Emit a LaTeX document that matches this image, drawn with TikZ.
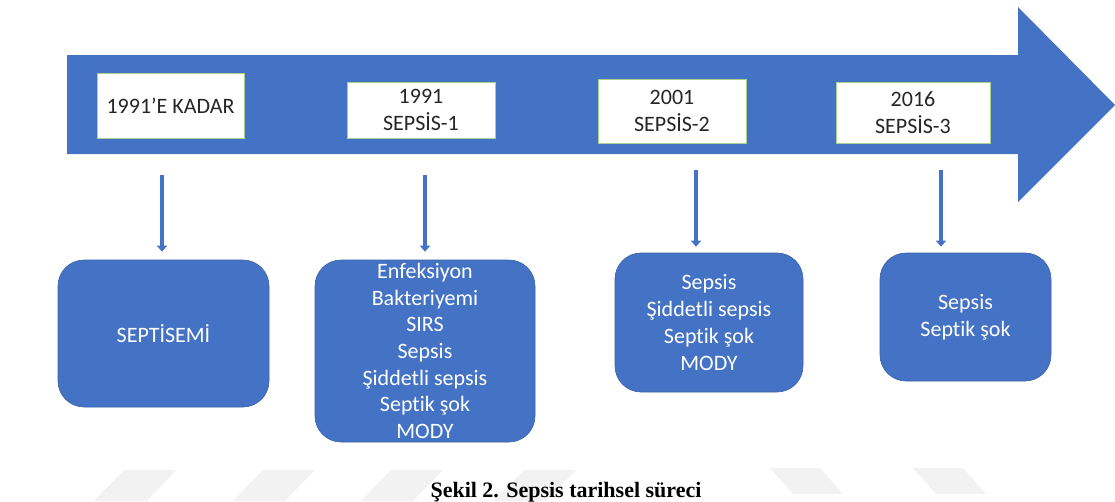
\documentclass[tikz,border=0pt]{standalone}
\usepackage{fontspec}
\setmainfont{Carlito}[Ligatures={NoCommon}]
\newfontfamily\capfont{Liberation Serif}
\usetikzlibrary{arrows.meta}
\definecolor{timeblue}{HTML}{4472C4}
\definecolor{yearline}{HTML}{A9D18E}
\tikzset{
	yearbox/.style={draw=yearline, fill=white, line width=0.8pt, text=black!85, align=center, inner sep=0pt, font=\fontsize{22}{26.7}\selectfont},
	termbox/.style={draw=timeblue!85!black, fill=timeblue, line width=0.6pt, rounded corners=26pt, text=white, align=center, inner sep=0pt, font=\fontsize{22}{26.7}\selectfont},
	downarrow/.style={draw=timeblue, line width=3.5pt, -{Triangle[width=10pt,length=6pt]}}
}

\begin{document}
\begin{tikzpicture}[x=1pt, y=-1pt]
		%%%%% START %%%%%
		\useasboundingbox (0, 0) rectangle (1115, 501);
		
		\fill[black!5] (124, 470) -- (176, 470) -- (147, 501) -- (94, 501) -- cycle;
		\fill[black!5] (263, 470) -- (315, 470) -- (285, 501) -- (233, 501) -- cycle;
		\fill[black!5] (391, 470) -- (443, 470) -- (413, 501) -- (361, 501) -- cycle;
		\fill[black!5] (524, 470) -- (576, 470) -- (546, 501) -- (494, 501) -- cycle;
		\fill[black!5] (770, 468) -- (820, 468) -- (843, 494) -- (793, 494) -- cycle;
		\fill[black!5] (913, 468) -- (963, 468) -- (986, 494) -- (936, 494) -- cycle;
		
		\fill[timeblue] (67, 55) -- (1018, 55) -- (1018, 7) -- (1115, 105) -- (1018, 202) -- (1018, 154) -- (67, 154) -- cycle;
		
		\node[yearbox, minimum width=147, minimum height=65] (kadar) at (170.5, 105.5) {1991’E KADAR};
		\node[yearbox, minimum width=148, minimum height=56] (sepsisone) at (421, 110) {1991\\SEPSİS-1};
		\node[yearbox, minimum width=148, minimum height=64] (sepsistwo) at (672, 111) {2001\\SEPSİS-2};
		\node[yearbox, minimum width=154, minimum height=61] (sepsisthree) at (913, 112.5) {2016\\SEPSİS-3};
		
		\node[termbox, minimum width=211, minimum height=147] (septisemi) at (163.5, 333.5) {SEPTİSEMİ};
		\node[termbox, minimum width=220, minimum height=182] (termone) at (425, 351) {Enfeksiyon\\Bakteriyemi\\SIRS\\Sepsis\\Şiddetli sepsis\\Septik şok\\MODY};
		\node[termbox, minimum width=188, minimum height=139] (termtwo) at (709, 322.5) {Sepsis\\Şiddetli sepsis\\Septik şok\\MODY};
		\node[termbox, minimum width=171, minimum height=128] (termthree) at (965.5, 317) {Sepsis\\Septik şok};
		
		\coordinate (startzero) at (162, 175);
		\coordinate (startone) at (425, 175);
		\coordinate (starttwo) at (696, 170);
		\coordinate (startthree) at (941, 170);
		
		\draw[downarrow, shorten >=8pt] (startzero) -- (startzero |- septisemi.north);
		\draw[downarrow, shorten >=8pt] (startone) -- (startone |- termone.north);
		\draw[downarrow, shorten >=6pt] (starttwo) -- (starttwo |- termtwo.north);
		\draw[downarrow, shorten >=6pt] (startthree) -- (startthree |- termthree.north);
		
		\node[anchor=base, font=\capfont\bfseries\fontsize{22}{26}\selectfont] (caption) at (566, 497) {Şekil 2. Sepsis tarihsel süreci};
		%%%%% END %%%%%
\end{tikzpicture}
\end{document}
